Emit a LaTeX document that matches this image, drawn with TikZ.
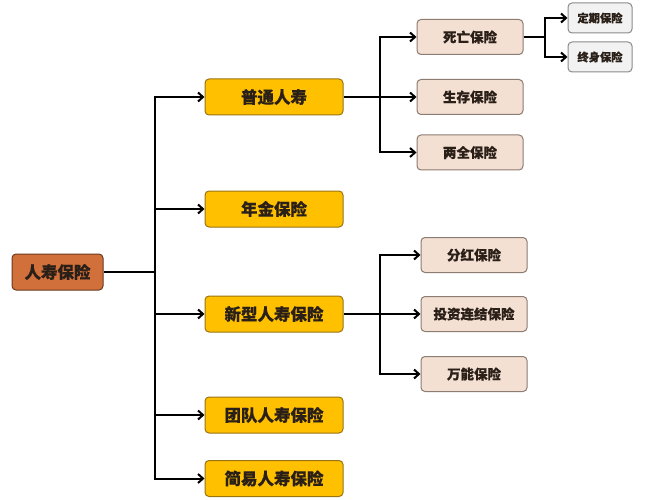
\documentclass[tikz,border=0pt]{standalone}
\usepackage{fontspec}
\setmainfont{Noto Sans CJK SC}[FakeBold=0.35]
\usetikzlibrary{arrows.meta}
\definecolor{rootfill}{HTML}{D2703C}
\definecolor{rootdraw}{HTML}{6A3A1E}
\definecolor{lvtwofill}{HTML}{FFC000}
\definecolor{lvtwodraw}{HTML}{9A7410}
\definecolor{lvthreefill}{HTML}{F4DFD3}
\definecolor{lvthreedraw}{HTML}{8C7C72}
\definecolor{lvfourfill}{HTML}{F2F2F2}
\definecolor{lvfourdraw}{HTML}{8A8A8A}
\definecolor{txt}{HTML}{2A2018}
\begin{document}
\begin{tikzpicture}[x=1pt,y=1pt,
  boxbase/.style={rounded corners=4pt, line width=1pt, inner sep=0pt, text=txt, anchor=center},
  rootbox/.style={boxbase, fill=rootfill, draw=rootdraw, minimum width=91pt, minimum height=36pt, font=\fontsize{16.5}{18}\selectfont\bfseries},
  twobox/.style={boxbase, fill=lvtwofill, draw=lvtwodraw, minimum width=138pt, minimum height=36pt, font=\fontsize{16.5}{18}\selectfont\bfseries},
  threebox/.style={boxbase, fill=lvthreefill, draw=lvthreedraw, minimum width=106pt, minimum height=35pt, font=\fontsize{13.5}{15}\selectfont\bfseries},
  fourbox/.style={boxbase, fill=lvfourfill, draw=lvfourdraw, minimum width=64pt, minimum height=30pt, font=\fontsize{11.3}{13}\selectfont\bfseries},
  conn/.style={line width=2pt, black},
  arr/.style={conn, -{Straight Barb[length=5pt,width=9pt,line width=2pt]}}
]
\useasboundingbox (0,0) rectangle (656,-500);
% nodes
\node[rootbox] (root) at (57.5,-272) {人寿保险};
\node[twobox] (b1) at (274,-97) {普通人寿};
\node[twobox] (b2) at (274,-209) {年金保险};
\node[twobox] (b3) at (274,-314) {新型人寿保险};
\node[twobox] (b4) at (274,-415) {团队人寿保险};
\node[twobox] (b5) at (274,-478.5) {简易人寿保险};
\node[threebox] (c1) at (470,-37) {死亡保险};
\node[threebox] (c2) at (470,-97) {生存保险};
\node[threebox] (c3) at (470,-152.5) {两全保险};
\node[threebox] (d1) at (474,-255) {分红保险};
\node[threebox] (d2) at (474,-314) {投资连结保险};
\node[threebox] (d3) at (474,-374) {万能保险};
\node[fourbox] (e1) at (600,-18) {定期保险};
\node[fourbox] (e2) at (600,-57) {终身保险};
% junctions
\coordinate (J1) at (155,-272);
\coordinate (J2) at (380,-97);
\coordinate (J3) at (545,-37);
\coordinate (J4) at (380,-314);
% connectors
\draw[conn] (root.east) -- (J1);
\foreach \t in {b1,b2,b3,b4,b5} \draw[arr] (J1) |- (\t.west);
\draw[conn] (b1.east) -- (J2);
\foreach \t in {c1,c2,c3} \draw[arr] (J2) |- (\t.west);
\draw[conn] (c1.east) -- (J3);
\foreach \t in {e1,e2} \draw[arr] (J3) |- (\t.west);
\draw[conn] (b3.east) -- (J4);
\foreach \t in {d1,d2,d3} \draw[arr] (J4) |- (\t.west);
\end{tikzpicture}
\end{document}
